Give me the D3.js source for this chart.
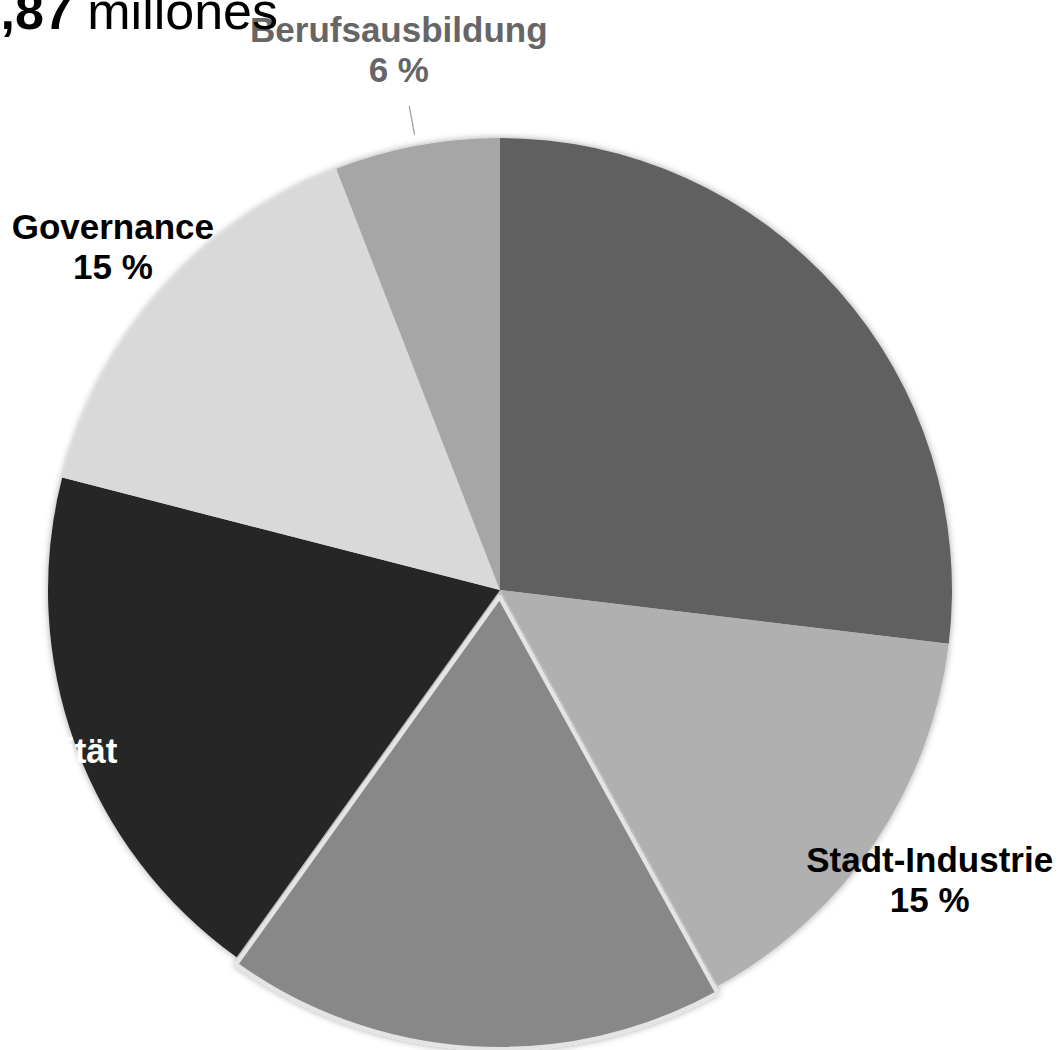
<!DOCTYPE html>
<html>
<head>
<meta charset="utf-8">
<script src="https://cdn.jsdelivr.net/npm/d3@7"></script>
<style>
  html, body { margin: 0; padding: 0; background: #fff; overflow: hidden; }
  svg { display: block; font-family: "Liberation Sans", Arial, sans-serif; }
</style>
</head>
<body>
<svg id="chart"></svg>
<script>
// Werte (Anteile in %), im Uhrzeigersinn ab 12 Uhr
const categories = ["Wasser", "Stadt-Industrie", "Energie", "Mobilität", "Governance", "Berufsausbildung"];
const values = [26.9, 15.1, 17.9, 19.1, 15.1, 5.9];
const colors = ["#606060", "#b0b0b0", "#888888", "#262626", "#d9d9d9", "#a6a6a6"];
// welche Segmente eine Beschriftung haben (Farbe der Schrift, Abstand als Faktor des Radius)
const labelColors = [null, "#000000", null, "#ffffff", "#000000", "#666666"];
const labelDist = [0, 1.147, 0, 1.07, 1.145, 1.215];
const labelDy = [0, 0, 0, 16, 0, 0];
const exploded = [false, false, true, false, false, false];
const titleBold = "1,87";
const titleRest = " millones";

const width = 1061, height = 1050;
const cx = 500, cy = 590, R = 452;

const svg = d3.select("#chart").attr("width", width).attr("height", height);

const defs = svg.append("defs");
const shadow = defs.append("filter").attr("id", "shadow")
    .attr("x", "-10%").attr("y", "-10%").attr("width", "120%").attr("height", "120%");
shadow.append("feDropShadow")
    .attr("dx", 0).attr("dy", 0).attr("stdDeviation", 3.5)
    .attr("flood-color", "#000").attr("flood-opacity", 0.35);

const pie = d3.pie().sort(null).value(d => d)(values);
const arc = d3.arc().innerRadius(0).outerRadius(R);

const g = svg.append("g").attr("transform", `translate(${cx},${cy})`);
const slices = g.append("g").attr("filter", "url(#shadow)");

// normale Segmente zuerst, das herausgezogene oben drauf
const order = pie.map((d, i) => i).sort((a, b) => exploded[a] - exploded[b]);
order.forEach(i => {
    const d = pie[i];
    const mid = (d.startAngle + d.endAngle) / 2;
    const off = exploded[i] ? 7 : 0;
    slices.append("path")
        .attr("d", arc(d))
        .attr("fill", colors[i])
        .attr("stroke", exploded[i] ? "#e4e4e4" : "none")
        .attr("stroke-width", exploded[i] ? 4 : 0)
        .attr("stroke-linejoin", "round")
        .attr("transform", `translate(${off * Math.sin(mid)},${-off * Math.cos(mid)})`);
});

// Beschriftungen
const fs = 35;
pie.forEach((d, i) => {
    if (!labelColors[i]) return;
    const lr = R * labelDist[i];
    let [lx, ly] = d3.arc().innerRadius(lr).outerRadius(lr).centroid(d);
    ly += labelDy[i];
    const t = g.append("text")
        .attr("text-anchor", "middle")
        .attr("font-weight", "bold")
        .attr("font-size", fs)
        .attr("fill", labelColors[i]);
    t.append("tspan").attr("x", lx).attr("y", ly - 8).text(categories[i]);
    t.append("tspan").attr("x", lx).attr("y", ly + 32).text(Math.round(values[i]) + " %");
});

// Führungslinie für das kleine Segment
const small = pie[5];
const a5 = (small.startAngle + small.endAngle) / 2;
g.append("line")
    .attr("x1", R * 1.025 * Math.sin(a5)).attr("y1", -R * 1.025 * Math.cos(a5))
    .attr("x2", R * 1.09 * Math.sin(a5)).attr("y2", -R * 1.09 * Math.cos(a5))
    .attr("stroke", "#a0a0a0").attr("stroke-width", 1.3);

// Titel (links abgeschnitten)
const title = svg.append("text")
    .attr("x", 278).attr("y", 29)
    .attr("text-anchor", "end")
    .attr("font-size", 52)
    .attr("fill", "#000");
title.append("tspan").attr("font-weight", "bold").text(titleBold);
title.append("tspan").text(titleRest);
</script>
</body>
</html>
